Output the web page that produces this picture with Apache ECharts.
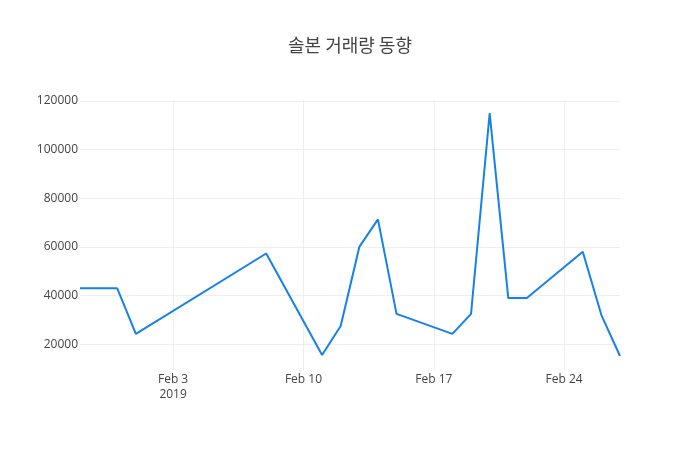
<!DOCTYPE html>
<html>
<head>
<meta charset="utf-8">
<script src="https://cdn.jsdelivr.net/npm/echarts@6/dist/echarts.min.js"></script>
<style>
    html, body { margin: 0; padding: 0; background: #fff; }
    #chart { width: 700px; height: 450px; }
</style>
</head>
<body>
<div id="chart"></div>
<script>
// Fechas de negociación y volumen
var dates = [
    '2019-01-29', '2019-01-30', '2019-01-31', '2019-02-01', '2019-02-08',
    '2019-02-11', '2019-02-12', '2019-02-13', '2019-02-14', '2019-02-15',
    '2019-02-18', '2019-02-19', '2019-02-20', '2019-02-21', '2019-02-22',
    '2019-02-25', '2019-02-26', '2019-02-27'
];
var volumes = [
    43000, 43000, 43000, 24300, 57300,
    15600, 27500, 60000, 71300, 32500,
    24300, 32500, 114900, 39000, 39000,
    58000, 32000, 15200
];
var yTicks = [20000, 40000, 60000, 80000, 100000, 120000];
var xTicks = ['2019-02-03', '2019-02-10', '2019-02-17', '2019-02-24'];

function ts(s) {
    var p = s.split('-');
    return Date.UTC(+p[0], +p[1] - 1, +p[2]);
}

var months = ['Jan', 'Feb', 'Mar', 'Apr', 'May', 'Jun', 'Jul', 'Aug', 'Sep', 'Oct', 'Nov', 'Dec'];
var xTickValues = xTicks.map(ts);

var chart = echarts.init(document.getElementById('chart'));
var options = {
    animation: false,
    textStyle: { fontFamily: '"Open Sans", "Noto Sans CJK KR", sans-serif' },
    title: {
        text: '솔본 거래량 동향',
        left: 'center',
        top: 31,
        textStyle: {
            fontFamily: '"Noto Sans CJK KR", "Open Sans", sans-serif',
            fontSize: 18,
            fontWeight: 'normal',
            color: '#444'
        }
    },
    grid: { left: 80, right: 80, top: 100, bottom: 80, containLabel: false },
    xAxis: {
        type: 'value',
        min: ts('2019-01-29'),
        max: ts('2019-02-27'),
        axisLine: { show: false },
        axisTick: { show: false, customValues: xTickValues },
        splitLine: { show: true, lineStyle: { color: '#eee', width: 1 } },
        axisLabel: {
            customValues: xTickValues,
            color: '#444',
            fontSize: 12,
            margin: 2,
            lineHeight: 15,
            formatter: function (v) {
                var d = new Date(v);
                var s = months[d.getUTCMonth()] + ' ' + d.getUTCDate();
                if (v === xTickValues[0]) s += '\n' + d.getUTCFullYear();
                return s;
            }
        }
    },
    yAxis: {
        type: 'value',
        min: 9450,
        max: 120330,
        axisLine: { show: false },
        axisTick: { show: false, customValues: yTicks },
        splitLine: { show: true, lineStyle: { color: '#eee', width: 1 } },
        axisLabel: {
            customValues: yTicks,
            color: '#444',
            fontSize: 12,
            margin: 2,
            formatter: function (v) { return String(v); }
        }
    },
    series: [{
        name: '거래량',
        type: 'line',
        data: dates.map(function (d, i) { return [ts(d), volumes[i]]; }),
        showSymbol: false,
        symbol: 'none',
        lineStyle: { color: '#1681e8', width: 2 },
        itemStyle: { color: '#1681e8' }
    }]
};
chart.setOption(options);
</script>
</body>
</html>
